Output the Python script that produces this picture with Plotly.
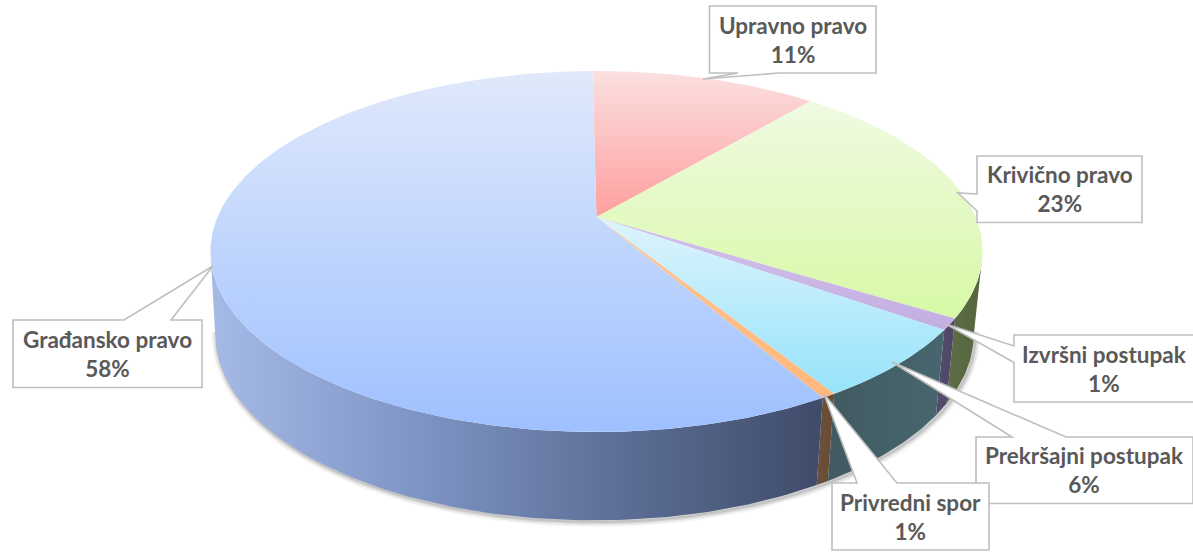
import math
import plotly.graph_objects as go

# ---- data -------------------------------------------------------------
categories = ["Upravno pravo", "Krivično pravo", "Izvršni postupak",
              "Prekršajni postupak", "Privredni spor", "Građansko pravo"]
values = [11.4, 22.6, 1.0, 6.4, 0.5, 58.1]
percent_labels = ["11%", "23%", "1%", "6%", "1%", "58%"]

# ---- style ------------------------------------------------------------
top_colors = [("#ff9e9e", "#fbe0e0"), ("#d7f9a6", "#f0fae2"), ("#c3aee2", "#d2c2ea"),
              ("#96e3fb", "#def4fc"), ("#ffb87c", "#ffc596"), ("#9ec0ff", "#e0e9fb")]
wall_colors = [["#7a6060", "#7a6060"], ["#5d6d44", "#566540"], ["#564c6c", "#4e4566"],
               ["#425a62", "#47666e"], ["#6c5038", "#664a34"],
               ["#a6bae6", "#7f95c5", "#5c6f96", "#3f4b69"]]
START = -0.2      # percent offset of the first slice
CX, CY = 596.5, 217.0
C = -0.191
AX = 379.0
TOP_A, TOP_B = 132.5, 217.0
LOW_A, LOW_B = 122.0, 299.0
LOW_S = 0.982
LOW_DX = -2.0
V_MIN = 0.2


def proj(pct, a, b, s=1.0, dx=0.0):
    th = 2 * math.pi * pct / 100
    u, v = math.sin(th), -math.cos(th)
    d = 1 + C * v
    return CX + dx + s * AX * u / d, (a * v + b) / d


def arc(p0, p1, a, b, s=1.0, dx=0.0, n=None):
    n = n or max(2, int(abs(p1 - p0) * 4))
    pts = [proj(p0 + (p1 - p0) * i / n, a, b, s, dx) for i in range(n + 1)]
    return [p[0] for p in pts], [p[1] for p in pts]


# limits (percent) of the visible front walls
pct_vmin = math.degrees(math.acos(V_MIN)) / 360 * 100
FRONT0, FRONT1 = 50 - pct_vmin, 50 + pct_vmin

edges = [START]
for val in values:
    edges.append(edges[-1] + val)

fig = go.Figure()

# soft shadow under the walls
sx, sy = arc(FRONT0 - 0.5, FRONT1 + 0.5, LOW_A, LOW_B, LOW_S, LOW_DX, 300)
for w, alpha in [(11, 0.035), (8, 0.05), (5, 0.07), (2.5, 0.09)]:
    fig.add_trace(go.Scatter(x=[p + 1.5 for p in sx], y=[p + 1.5 for p in sy], mode="lines",
                             line=dict(color=f"rgba(0,0,0,{alpha})", width=w),
                             hoverinfo="skip", showlegend=False))

# walls
for i in range(len(categories)):
    p0, p1 = max(edges[i], FRONT0), min(edges[i + 1], FRONT1)
    if p1 <= p0:
        continue
    tx, ty = arc(p0, p1, TOP_A, TOP_B)
    lx, ly = arc(p0, p1, LOW_A, LOW_B, LOW_S, LOW_DX)
    cols = wall_colors[i]
    cs = [[k / (len(cols) - 1), c] for k, c in enumerate(cols)]
    fig.add_trace(go.Scatter(x=tx + lx[::-1], y=ty + ly[::-1], mode="lines", fill="toself",
                             line=dict(width=0), fillgradient=dict(type="horizontal", colorscale=cs),
                             hoverinfo="skip", showlegend=False, name=categories[i]))

# top faces
for i, name in enumerate(categories):
    ax, ay = arc(edges[i], edges[i + 1], TOP_A, TOP_B)
    c0, c1 = top_colors[i]
    fig.add_trace(go.Scatter(x=[CX] + ax + [CX], y=[CY] + ay + [CY], mode="lines", fill="toself",
                             line=dict(width=0),
                             fillgradient=dict(type="vertical", colorscale=[[0, c0], [1, c1]]),
                             hoverinfo="skip", showlegend=False, name=name))

# callouts: box (x0, x1, y0, y1), tip, wedge base on which edge and its two positions
callouts = [
    ("Upravno pravo", 709.5, 876, 6, 73, (703, 79), "b", 738, 779),
    ("Krivično pravo", 977, 1142, 156, 222.5, (958, 193), "l", 194, 211),
    ("Izvršni postupak", 1014, 1194, 335, 402, (946, 324), "l", 346, 362.5),
    ("Prekršajni postupak", 976, 1193, 437, 503.5, (892, 362), "t", 1012, 1066),
    ("Privredni spor", 832, 989, 483, 550, (824, 394), "t", 857, 897),
    ("Građansko pravo", 13, 202, 320, 387.5, (213, 266), "t", 124, 171),
]
shapes = []
for name, x0, x1, y0, y1, (tx, ty), side, b0, b1 in callouts:
    tip = f"L{tx},{ty}"
    if side == "t":
        path = f"M{x0},{y0}L{b0},{y0}{tip}L{b1},{y0}L{x1},{y0}L{x1},{y1}L{x0},{y1}Z"
    elif side == "b":
        path = f"M{x0},{y0}L{x1},{y0}L{x1},{y1}L{b1},{y1}{tip}L{b0},{y1}L{x0},{y1}Z"
    else:
        path = f"M{x0},{y0}L{x1},{y0}L{x1},{y1}L{x0},{y1}L{x0},{b1}{tip}L{x0},{b0}Z"
    shapes.append(dict(type="path", path=path, xref="x", yref="y", fillcolor="white",
                       line=dict(color="#bfbfbf", width=1.6), layer="above"))

annotations = []
for (name, x0, x1, y0, y1, *_ ) in callouts:
    i = categories.index(name)
    annotations.append(dict(x=(x0 + x1) / 2, y=(y0 + y1) / 2, xref="x", yref="y", showarrow=False,
                            text=f"<b>{name}</b><br><b>{percent_labels[i]}</b>",
                            font=dict(family="Lato", size=22.5, color="#595959"), align="center",
                            xanchor="center", yanchor="middle"))

fig.update_layout(width=1193, height=553, margin=dict(l=0, r=0, t=0, b=0),
                  paper_bgcolor="white", plot_bgcolor="white", showlegend=False,
                  xaxis=dict(range=[0, 1193], visible=False, fixedrange=True),
                  yaxis=dict(range=[553, 0], visible=False, fixedrange=True),
                  shapes=shapes, annotations=annotations)
fig.write_html("out.html", config=dict(displayModeBar=False),
               post_script="document.body.style.margin='0';document.body.style.overflow='hidden';")
